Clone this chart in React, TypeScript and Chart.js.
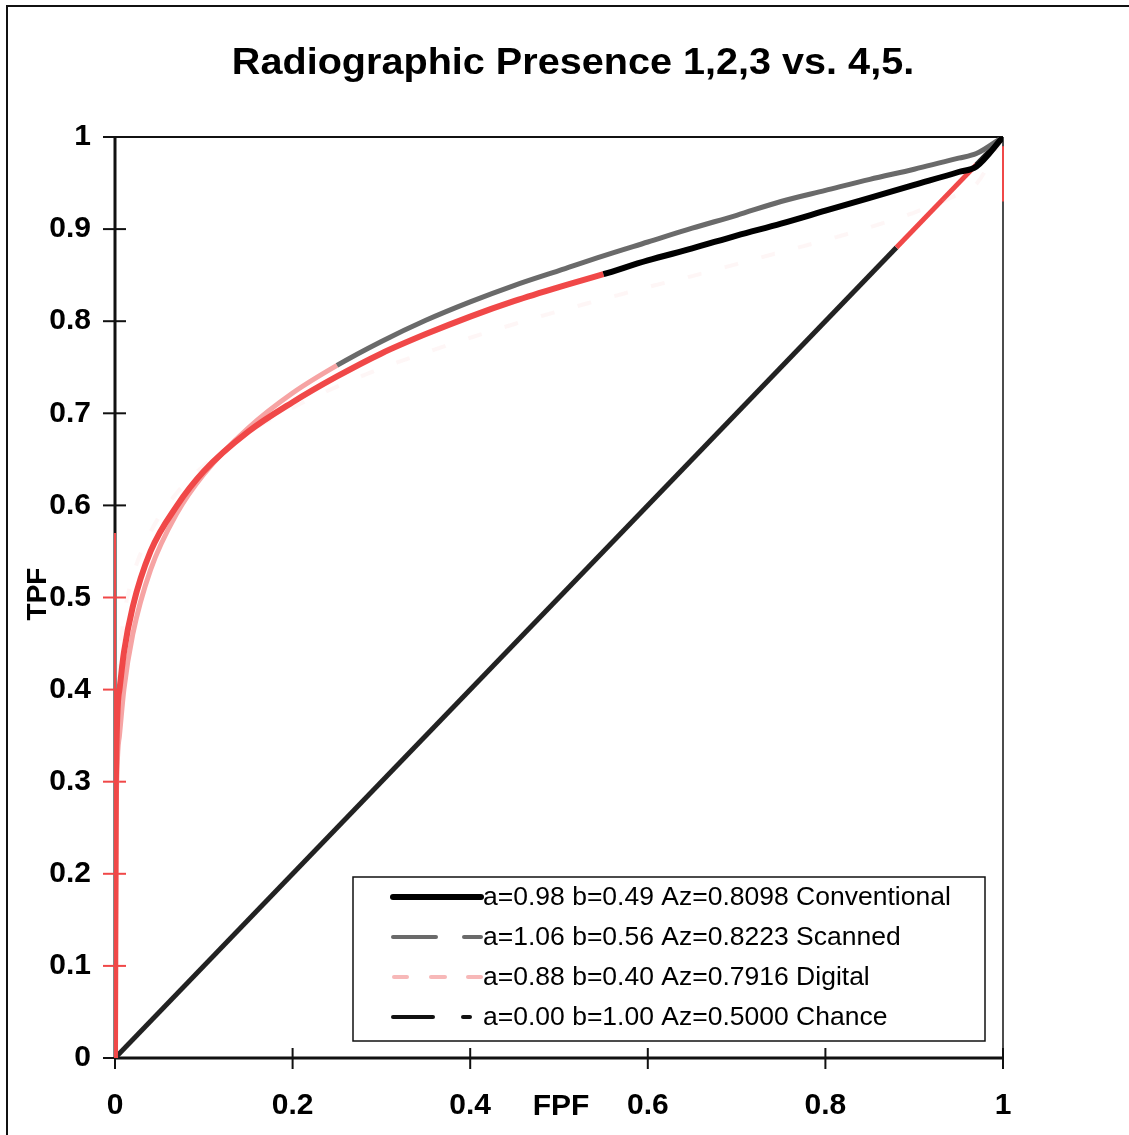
import React, { useEffect, useRef } from 'react';
import { Chart, registerables } from 'chart.js';

Chart.register(...registerables);

const chartTitle = 'Radiographic Presence 1,2,3 vs. 4,5.';
const xAxisTitle = 'FPF';
const yAxisTitle = 'TPF';
const xTickValues = [0, 0.2, 0.4, 0.6, 0.8, 1];
const yTickValues = [0, 0.1, 0.2, 0.3, 0.4, 0.5, 0.6, 0.7, 0.8, 0.9, 1];

const seriesLabels = [
  'a=0.98 b=0.49 Az=0.8098 Conventional',
  'a=1.06 b=0.56 Az=0.8223 Scanned',
  'a=0.88 b=0.40 Az=0.7916 Digital',
  'a=0.00 b=1.00 Az=0.5000 Chance',
];

const conventionalFPF = [0, 0.001, 0.005, 0.01, 0.02, 0.04, 0.07, 0.1, 0.15, 0.2, 0.25, 0.3, 0.35, 0.4, 0.45, 0.5, 0.55, 0.6, 0.65, 0.7, 0.75, 0.8, 0.85, 0.9, 0.95, 0.97, 1];
const conventionalTPF = [0, 0.3, 0.4, 0.44, 0.49, 0.55, 0.6, 0.637, 0.68, 0.712, 0.74, 0.765, 0.786, 0.805, 0.822, 0.837, 0.851, 0.866, 0.879, 0.893, 0.906, 0.92, 0.934, 0.948, 0.962, 0.968, 1];

const scannedFPF = [0, 0.001, 0.005, 0.01, 0.02, 0.04, 0.07, 0.1, 0.15, 0.2, 0.25, 0.3, 0.35, 0.4, 0.45, 0.5, 0.55, 0.6, 0.65, 0.7, 0.75, 0.8, 0.85, 0.9, 0.95, 0.97, 1];
const scannedTPF = [0, 0.25, 0.35, 0.4, 0.46, 0.53, 0.592, 0.634, 0.684, 0.722, 0.752, 0.778, 0.801, 0.821, 0.839, 0.855, 0.871, 0.886, 0.901, 0.915, 0.93, 0.942, 0.954, 0.965, 0.977, 0.982, 1];

const digitalFPF = [0, 0.001, 0.005, 0.01, 0.02, 0.04, 0.07, 0.1, 0.15, 0.2, 0.25, 0.3, 0.35, 0.4, 0.45, 0.5, 0.55, 0.6, 0.65, 0.7, 0.75, 0.8, 0.85, 0.9, 0.95, 0.97, 1];
const digitalTPF = [0, 0.36, 0.44, 0.48, 0.523, 0.571, 0.614, 0.643, 0.679, 0.706, 0.729, 0.749, 0.766, 0.782, 0.797, 0.811, 0.824, 0.837, 0.849, 0.862, 0.875, 0.888, 0.902, 0.918, 0.938, 0.949, 1];

const chanceFPF = [0, 0.88, 0.97, 1];
const chanceTPF = [0, 0.88, 0.97, 1];

const FONT = "'Liberation Sans', Arial, sans-serif";
const RED = '#f04848';
const PINK = '#f6a4a4';
const GRAY = '#6a6a6a';

const toPoints = (xs: number[], ys: number[]) => xs.map((x, i) => ({ x, y: ys[i] }));

const decorPlugin = {
  id: 'decor',
  beforeDatasetsDraw(chart: any) {
    const { ctx, chartArea, scales } = chart;
    const { left, right, top, bottom } = chartArea;
    ctx.save();
    ctx.strokeStyle = '#111';
    ctx.lineWidth = 2;
    ctx.beginPath();
    ctx.moveTo(7, 1135);
    ctx.lineTo(7, 6);
    ctx.lineTo(1129, 6);
    ctx.stroke();
    ctx.lineWidth = 2;
    ctx.beginPath();
    ctx.moveTo(left, top);
    ctx.lineTo(right, top);
    ctx.stroke();
    ctx.lineWidth = 1.5;
    ctx.beginPath();
    ctx.moveTo(right, top);
    ctx.lineTo(right, bottom);
    ctx.stroke();
    ctx.lineWidth = 3;
    ctx.beginPath();
    ctx.moveTo(left, top);
    ctx.lineTo(left, bottom);
    ctx.moveTo(left - 1, bottom);
    ctx.lineTo(right, bottom);
    ctx.stroke();
    ctx.lineWidth = 2;
    yTickValues.forEach((v) => {
      const py = scales.y.getPixelForValue(v);
      ctx.strokeStyle = v > 0 && v <= 0.5 ? RED : '#111';
      ctx.beginPath();
      ctx.moveTo(left - 12, py);
      ctx.lineTo(left + 11, py);
      ctx.stroke();
    });
    ctx.strokeStyle = '#111';
    xTickValues.forEach((v) => {
      const px = scales.x.getPixelForValue(v);
      ctx.beginPath();
      ctx.moveTo(px, bottom - 10);
      ctx.lineTo(px, bottom + 11);
      ctx.stroke();
    });
    ctx.restore();
  },
  afterDatasetsDraw(chart: any) {
    const { ctx, chartArea, scales } = chart;
    const { left, right } = chartArea;
    ctx.save();
    ctx.strokeStyle = RED;
    ctx.lineWidth = 2;
    ctx.beginPath();
    ctx.moveTo(left, scales.y.getPixelForValue(0));
    ctx.lineTo(left, scales.y.getPixelForValue(0.57));
    ctx.moveTo(right, scales.y.getPixelForValue(0.93));
    ctx.lineTo(right, scales.y.getPixelForValue(0.99));
    ctx.stroke();
    ctx.restore();
  },
  afterDraw(chart: any) {
    const { ctx } = chart;
    ctx.save();
    ctx.fillStyle = '#000';
    ctx.textAlign = 'center';
    ctx.textBaseline = 'middle';
    ctx.save();
    ctx.translate(573, 64);
    ctx.scale(1.1, 1);
    ctx.font = `bold 36px ${FONT}`;
    ctx.fillText(chartTitle, 0, 0);
    ctx.restore();
    ctx.font = `bold 30px ${FONT}`;
    ctx.fillText(xAxisTitle, 561, 1107);
    ctx.save();
    ctx.translate(38, 594);
    ctx.rotate(-Math.PI / 2);
    ctx.font = `bold 28px ${FONT}`;
    ctx.fillText(yAxisTitle, 0, 0);
    ctx.restore();
    const bx = 353, by = 877, bw = 632, bh = 164;
    ctx.fillStyle = '#fff';
    ctx.fillRect(bx, by, bw, bh);
    ctx.strokeStyle = '#111';
    ctx.lineWidth = 1.5;
    ctx.strokeRect(bx, by, bw, bh);
    const rows = [897, 937, 977, 1017];
    const samples: { color: string; width: number; segs: [number, number][] }[] = [
      { color: '#000', width: 6, segs: [[393, 481]] },
      { color: GRAY, width: 4, segs: [[393, 436], [464, 481]] },
      { color: '#f7b8b8', width: 4, segs: [[394, 407], [431, 445], [468, 481]] },
      { color: '#111', width: 4, segs: [[393, 433], [463, 470]] },
    ];
    ctx.textAlign = 'left';
    ctx.textBaseline = 'middle';
    ctx.font = `26.5px ${FONT}`;
    seriesLabels.forEach((label, i) => {
      const s = samples[i];
      ctx.strokeStyle = s.color;
      ctx.lineWidth = s.width;
      ctx.lineCap = 'round';
      s.segs.forEach(([a, b]) => {
        ctx.beginPath();
        ctx.moveTo(a, rows[i]);
        ctx.lineTo(b, rows[i]);
        ctx.stroke();
      });
      ctx.fillStyle = '#000';
      ctx.fillText(label, 483, rows[i] + 1);
    });
    ctx.restore();
  },
};

export default function App() {
  const canvasRef = useRef<HTMLCanvasElement | null>(null);

  useEffect(() => {
    document.body.style.margin = '0';
    const canvas = canvasRef.current;
    if (!canvas) return;
    const common = { pointRadius: 0, cubicInterpolationMode: 'monotone' as const };
    const chart = new Chart(canvas, {
      type: 'line',
      data: {
        datasets: [
          {
            ...common,
            label: seriesLabels[0],
            data: toPoints(conventionalFPF, conventionalTPF),
            borderColor: '#000',
            borderWidth: 6,
            segment: { borderColor: (c: any) => (c.p0.parsed.x < 0.55 ? RED : undefined) },
          },
          {
            ...common,
            label: seriesLabels[1],
            data: toPoints(scannedFPF, scannedTPF),
            borderColor: GRAY,
            borderWidth: 5,
            segment: { borderColor: (c: any) => (c.p0.parsed.x < 0.25 ? PINK : undefined) },
          },
          {
            ...common,
            label: seriesLabels[2],
            data: toPoints(digitalFPF, digitalTPF),
            borderColor: 'rgba(245,170,170,0.1)',
            borderWidth: 4,
            borderDash: [14, 24],
          },
          {
            pointRadius: 0,
            tension: 0,
            label: seriesLabels[3],
            data: toPoints(chanceFPF, chanceTPF),
            borderColor: '#222',
            borderWidth: 5,
            segment: {
              borderColor: (c: any) => (c.p0.parsed.x >= 0.88 && c.p0.parsed.x < 0.97 ? RED : undefined),
            },
          },
        ],
      },
      options: {
        responsive: false,
        animation: false,
        layout: { padding: { top: 137, right: 126, left: 0, bottom: 0 } },
        plugins: { legend: { display: false }, title: { display: false }, tooltip: { enabled: false } },
        scales: {
          x: {
            type: 'linear',
            min: 0,
            max: 1,
            afterBuildTicks: (s: any) => {
              s.ticks = xTickValues.map((v) => ({ value: v }));
            },
            afterFit: (s: any) => {
              s.height = 77;
            },
            grid: { display: false, drawTicks: false },
            border: { display: false },
            ticks: {
              color: '#000',
              font: { family: FONT, size: 30, weight: 'bold' },
              padding: 30,
              maxRotation: 0,
              autoSkip: false,
              callback: (v: any) => String(v),
            },
          },
          y: {
            type: 'linear',
            min: 0,
            max: 1,
            afterBuildTicks: (s: any) => {
              s.ticks = yTickValues.map((v) => ({ value: v }));
            },
            afterFit: (s: any) => {
              s.width = 115;
            },
            grid: { display: false, drawTicks: false },
            border: { display: false },
            ticks: {
              color: '#000',
              font: { family: FONT, size: 30, weight: 'bold' },
              padding: 24,
              autoSkip: false,
              callback: (v: any) => String(v),
            },
          },
        },
      },
      plugins: [decorPlugin],
    } as any);
    return () => chart.destroy();
  }, []);

  return (
    <div style={{ width: 1129, height: 1135, background: '#fff' }}>
      <canvas ref={canvasRef} width={1129} height={1135} style={{ display: 'block' }} />
    </div>
  );
}
